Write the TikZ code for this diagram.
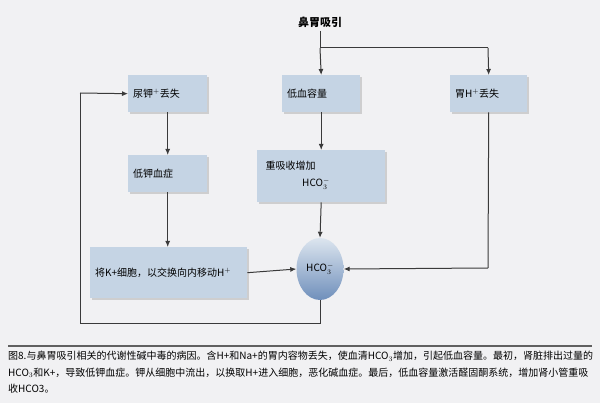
\documentclass[tikz,border=0pt]{standalone}
\usepackage{fontspec}
\setmainfont{Noto Sans CJK SC}
\usetikzlibrary{arrows.meta,shadows,shapes.geometric}
\definecolor{bg}{HTML}{F1F1F3}
\definecolor{boxc}{HTML}{C5D4E4}
\definecolor{ovb}{HTML}{6F8FBB}
\definecolor{ln}{HTML}{3A3A3A}
\begin{document}
\begin{tikzpicture}[x=1pt,y=-1pt,
  bx/.style={draw=none,fill=boxc,drop shadow={shadow xshift=1.5pt,shadow yshift=-1.5pt,fill=gray!45,opacity=0.8},inner sep=0pt,font=\fontsize{10}{12}\selectfont},
  ar/.style={draw=ln,line width=1pt,-{Latex[length=6pt,width=5pt]}},
  pl/.style={draw=ln,line width=1pt}]
\fill[bg] (0,0) rectangle (600,403);
\useasboundingbox (0,0) rectangle (600,403);
\node[font=\bfseries\fontsize{11}{13}\selectfont] (top) at (320,22) {鼻胃吸引};
\node[bx,minimum width=79pt,minimum height=37pt,anchor=north west,text width=69pt] (uk) at (128,75) {尿钾$^{+}$丢失};
\node[bx,minimum width=78pt,minimum height=37pt,anchor=north west,text width=68pt] (lv) at (282,75) {低血容量};
\node[bx,minimum width=77pt,minimum height=37pt,anchor=north west,text width=67pt] (gh) at (450,75) {胃H$^{+}$丢失};
\node[bx,minimum width=79pt,minimum height=37pt,anchor=north west,text width=69pt] (lk) at (128,155) {低钾血症};
\node[bx,minimum width=128pt,minimum height=52pt,anchor=north west] (rb) at (257,150) {};
\node[font=\fontsize{10}{12}\selectfont,anchor=west] (rbt) at (262,166) {重吸收增加};
\node[font=\fontsize{10}{12}\selectfont] (rbh) at (316,184) {HCO$_3^-$};
\node[bx,minimum width=157pt,minimum height=51pt,anchor=north west,text width=147pt] (kx) at (90,247) {将K+细胞，以交换向内移动H$^{+}$};
\node[ellipse,minimum width=47pt,minimum height=62pt,inner sep=0pt,top color=boxc!60,bottom color=ovb,draw=none,font=\fontsize{10}{12}\selectfont] (hc) at (320,269) {HCO$_3^-$};
\coordinate (b1) at (320,48);
\coordinate (b2) at (488,48);
\coordinate (c1) at (488,268);
\coordinate (d1) at (320,324);
\coordinate (d2) at (80,324);
\coordinate (d3) at (80,93);
\draw[pl] (top.south) -- (b1);
\draw[ar] (b1) -- (lv.north);
\draw[pl] (b1) -- (b2);
\draw[ar] (b2) -- (gh.north);
\draw[ar] (lv) -- (rb);
\draw[ar] (rb.south) -- (hc.north);
\draw[pl] (gh.south) -- (c1);
\draw[ar] (c1) -- (hc.east);
\draw[ar] (uk) -- (lk);
\draw[ar] (lk.south) -- (kx.north -| lk.south);
\draw[ar] (kx.east) -- (hc.west);
\draw[pl] (hc.south) -- (d1) -- (d2) -- (d3);
\draw[ar] (d3) -- (uk.west);
\draw[draw=gray!75!black,line width=2.5pt] (8,346) -- (592,346);
\node[anchor=north west,align=left,font=\fontsize{10}{16.5}\selectfont,inner sep=0pt] (cap) at (8,351) {图8.与鼻胃吸引相关的代谢性碱中毒的病因。含H+和Na+的胃内容物丢失，使血清HCO$_3$增加，引起低血容量。最初，肾脏排出过量的\\HCO$_3$和K+，导致低钾血症。钾从细胞中流出，以换取H+进入细胞，恶化碱血症。最后，低血容量激活醛固酮系统，增加肾小管重吸\\收HCO3。};
\end{tikzpicture}
\end{document}
